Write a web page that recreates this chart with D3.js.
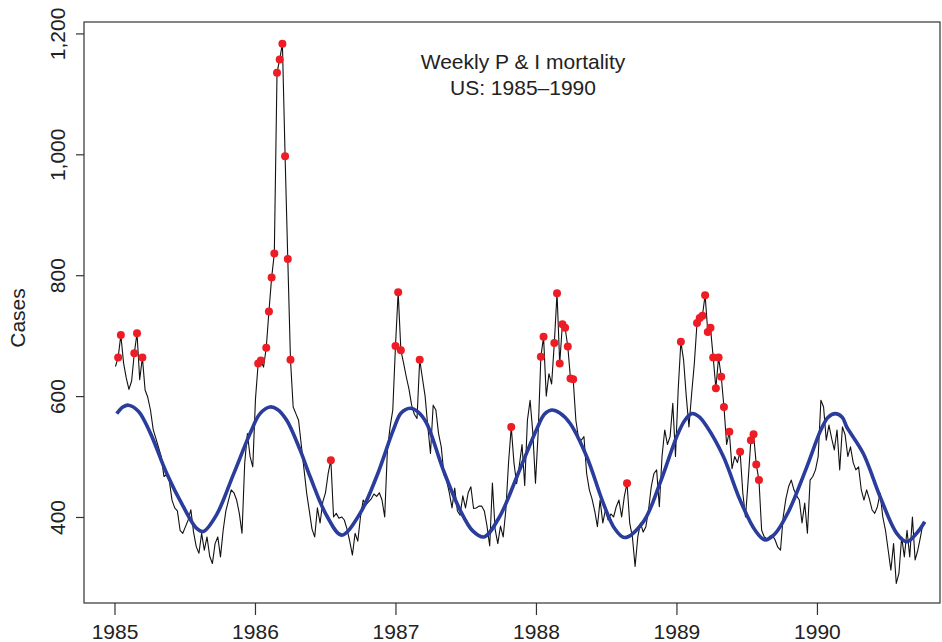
<!DOCTYPE html>
<html>
<head>
<meta charset="utf-8">
<script src="https://cdn.jsdelivr.net/npm/d3@7/dist/d3.min.js"></script>
<style>
    body { margin: 0; background: #fff; }
    text { font-family: "Liberation Sans", Arial, Helvetica, sans-serif; fill: #222; }
</style>
</head>
<body>
<div id="chart"></div>
<script>

// weekly P & I deaths, first week of 1985 onwards
var startYear = 1985.007;
var weeksPerYear = 52.18;
var weeklyCases = [
    649, 664, 701, 655, 630, 611, 625, 671, 704, 627, 664, 610, 598, 577, 545, 530, 515, 500, 467, 470,
    460, 428, 415, 410, 378, 373, 384, 395, 412, 375, 351, 340, 373, 345, 367, 335, 323, 356, 367, 334,
    378, 410, 428, 445, 440, 428, 406, 373, 489, 538, 500, 483, 595, 654, 659, 648, 680, 740, 796, 836,
    1135, 1157, 1183, 997, 827, 660, 582, 571, 560, 520, 480, 440, 410, 380, 367, 415, 390, 425, 440, 472,
    494, 400, 406, 398, 400, 395, 380, 360, 337, 373, 360, 400, 428, 420, 425, 430, 438, 434, 440, 428,
    400, 511, 549, 577, 683, 772, 676, 655, 632, 612, 585, 570, 563, 660, 630, 600, 550, 505, 585, 577,
    538, 516, 470, 460, 440, 415, 448, 410, 403, 435, 415, 440, 450, 414, 415, 418, 418, 410, 385, 352,
    456, 380, 356, 385, 367, 412, 490, 549, 490, 455, 485, 520, 452, 560, 593, 540, 456, 540, 665, 698,
    600, 637, 620, 688, 770, 654, 719, 713, 682, 629, 628, 560, 530, 527, 533, 472, 445, 430, 410, 384,
    428, 390, 412, 395, 405, 400, 417, 428, 400, 434, 456, 390, 367, 318, 367, 390, 375, 384, 412, 450,
    472, 478, 417, 500, 544, 520, 533, 588, 500, 610, 690, 660, 600, 549, 604, 654, 721, 729, 733, 767,
    706, 713, 664, 613, 664, 632, 582, 520, 541, 480, 500, 490, 508, 440, 400, 461, 527, 537, 487, 461,
    378, 367, 364, 368, 370, 362, 350, 345, 400, 430, 450, 461, 445, 435, 428, 390, 423, 373, 461, 467,
    478, 500, 593, 582, 527, 552, 530, 511, 544, 478, 549, 536, 500, 516, 490, 478, 483, 445, 428, 445,
    430, 412, 406, 417, 439, 400, 378, 345, 312, 356, 290, 307, 367, 334, 378, 334, 400, 329, 345, 367,
    392
];

// weeks above the epidemic threshold (red dots)
var epidemicWeeks = [1, 2, 7, 8, 10, 53, 54, 56, 57, 58, 59, 60, 61, 62, 63, 64, 65, 80, 104, 105, 106,
    113, 147, 158, 159, 163, 164, 165, 166, 167, 168, 169, 170, 190, 210, 216, 217, 218, 219, 220, 221,
    222, 223, 224, 225, 226, 228, 232, 236, 237, 238, 239];

// seasonal baseline (blue curve)
var baseYears = [1985.016, 1985.06, 1985.10, 1985.17, 1985.253, 1985.372, 1985.49, 1985.585, 1985.632,
    1985.727, 1985.846, 1985.965, 1986.036, 1986.107, 1986.16, 1986.226, 1986.321, 1986.392, 1986.511,
    1986.617, 1986.748, 1986.866, 1986.985, 1987.04, 1987.104, 1987.16, 1987.222, 1987.34, 1987.459,
    1987.55, 1987.63, 1987.74, 1987.87, 1988.005, 1988.06, 1988.112, 1988.17, 1988.242, 1988.361,
    1988.479, 1988.56, 1988.63, 1988.764, 1988.883, 1989.002, 1989.06, 1989.109, 1989.16, 1989.215,
    1989.334, 1989.453, 1989.56, 1989.63, 1989.70, 1989.80, 1989.92, 1990.03, 1990.08, 1990.13,
    1990.18, 1990.212, 1990.33, 1990.449, 1990.568, 1990.639, 1990.71, 1990.768];
var baseCases = [571, 582, 585, 575, 540, 472, 417, 381, 376,
    404, 470, 538, 571, 582, 578, 560, 511, 467, 402,
    370, 406, 467, 544, 572, 580, 574, 555, 478, 412,
    377, 367, 400, 470, 545, 570, 577, 572, 555, 500,
    423, 381, 366, 392, 456, 533, 560, 571, 566, 550,
    500, 428, 378, 362, 372, 410, 478, 545, 565, 571,
    565, 549, 505, 434, 373, 359, 373, 392];

var yearTicks = [1985, 1986, 1987, 1988, 1989, 1990];
var caseTicks = [400, 600, 800, 1000, 1200];
var titleLines = ["Weekly P & I mortality", "US: 1985\u20131990"];
var yLabel = "Cases";


var margin = { top: 22, right: 2, bottom: 39, left: 84 };
var width = 942 - margin.left - margin.right,
    height = 642 - margin.top - margin.bottom;

var svg = d3.select("#chart").append("svg")
    .attr("width", 942)
    .attr("height", 642)
    .append("g")
    .attr("transform", "translate(" + margin.left + "," + margin.top + ")");

// Scales (plot region runs a little past the data, like R's 4% padding)
var x = d3.scaleLinear()
    .domain([1984.783, 1990.876])
    .range([0, width]);

var y = d3.scaleLinear()
    .domain([257.7, 1218.9])
    .range([height, 0]);

var weekly = weeklyCases.map(function(v, i) {
    return { year: startYear + i / weeksPerYear, cases: v };
});
var baseline = baseYears.map(function(t, i) {
    return { year: t, cases: baseCases[i] };
});

// Axes
var xAxis = d3.axisBottom(x)
    .tickValues(yearTicks)
    .tickFormat(d3.format("d"))
    .tickSize(12)
    .tickPadding(9);

var yAxis = d3.axisLeft(y)
    .tickValues(caseTicks)
    .tickFormat(d3.format(","))
    .tickSize(8);

var gx = svg.append("g")
    .attr("class", "x-axis axis")
    .attr("transform", "translate(0," + height + ")")
    .call(xAxis);

var gy = svg.append("g")
    .attr("class", "y-axis axis")
    .call(yAxis);

svg.selectAll(".axis .domain").remove();
svg.selectAll(".axis line").attr("stroke", "#333").attr("stroke-width", 1.2);
svg.selectAll(".axis text")
    .attr("font-family", null)
    .style("font-size", "21px")
    .attr("fill", "#222");

gy.selectAll("text")
    .attr("x", null)
    .attr("dy", null)
    .attr("text-anchor", "middle")
    .attr("transform", "translate(-19,0) rotate(-90)");

// frame
svg.append("rect")
    .attr("width", width)
    .attr("height", height)
    .attr("fill", "none")
    .attr("stroke", "#333")
    .attr("stroke-width", 1.2);

// observed series
var line = d3.line()
    .x(function(d) { return x(d.year); })
    .y(function(d) { return y(d.cases); });

svg.append("path")
    .datum(weekly)
    .attr("class", "observed")
    .attr("d", line)
    .attr("fill", "none")
    .attr("stroke", "#111")
    .attr("stroke-width", 1.1)
    .attr("stroke-linejoin", "round");

// baseline
var baseLine = d3.line()
    .x(function(d) { return x(d.year); })
    .y(function(d) { return y(d.cases); })
    .curve(d3.curveCatmullRom.alpha(0.5));

svg.append("path")
    .datum(baseline)
    .attr("class", "baseline")
    .attr("d", baseLine)
    .attr("fill", "none")
    .attr("stroke", "#2a3c9c")
    .attr("stroke-width", 3.6);

// excess weeks
svg.selectAll(".excess")
    .data(epidemicWeeks)
    .enter().append("circle")
    .attr("class", "excess")
    .attr("cx", function(i) { return x(weekly[i].year); })
    .attr("cy", function(i) { return y(weekly[i].cases); })
    .attr("r", 4)
    .attr("fill", "#ee1c24");

// title
svg.selectAll(".title")
    .data(titleLines)
    .enter().append("text")
    .attr("class", "title")
    .attr("x", 439)
    .attr("y", function(d, i) { return 47 + i * 26; })
    .attr("text-anchor", "middle")
    .style("font-size", "21px")
    .text(function(d) { return d; });

svg.append("text")
    .attr("transform", "translate(" + (25 - margin.left) + "," + (318 - margin.top) + ") rotate(-90)")
    .attr("text-anchor", "middle")
    .style("font-size", "21px")
    .text(yLabel);

</script>
</body>
</html>
